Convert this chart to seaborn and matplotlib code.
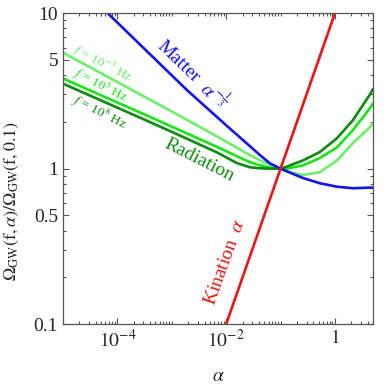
import numpy as np
import pandas as pd
import matplotlib
matplotlib.use('Agg')
import matplotlib.pyplot as plt
import matplotlib.ticker as mticker
import seaborn as sns

# ── Data ──────────────────────────────────────
matter_alpha = [5e-5, 1.9e-3, 1e-2, 0.042, 0.064, 0.1, 0.131, 0.259, 0.53, 1.09, 2.14, 4.4, 5.0]
matter_omega = [11.0, 3.2, 1.9, 1.22, 1.08, 1.0, 0.96, 0.87, 0.805, 0.765, 0.748, 0.755, 0.755]

kination_alpha = [0.01, 1.0]
kination_omega = [0.1, 10.0]

green_alpha = [1e-5, 4e-4, 1.6e-3, 6.8e-3, 0.0158, 0.0274, 0.042, 0.064, 0.1,
               0.131, 0.259, 0.53, 1.09, 2.14, 4.4, 5.0]
rad_f8 = [3.52, 1.99, 1.60, 1.27, 1.085, 1.02, 1.005, 1.0, 1.0,
          1.03, 1.13, 1.28, 1.57, 2.05, 3.0, 3.25]
rad_f5 = [3.8, 2.15, 1.73, 1.38, 1.20, 1.10, 1.05, 1.015, 1.0,
          1.0, 1.05, 1.17, 1.37, 1.77, 2.45, 2.62]
rad_f3 = [5.57, 2.77, 2.13, 1.61, 1.36, 1.22, 1.13, 1.06, 1.0,
          0.96, 0.91, 0.95, 1.13, 1.46, 1.85, 1.95]

C_BLUE = '#1414f0'
C_RED = '#f01414'
C_DARK = '#0a8c0a'
C_MID = '#14e614'
C_LIGHT = '#6cf06c'

# ── Style ─────────────────────────────────────
sns.set_theme(style='ticks')
plt.rcParams['font.family'] = ['Liberation Serif', 'DejaVu Serif']
plt.rcParams['mathtext.fontset'] = 'stix'

fig = plt.figure(figsize=(3.91, 3.85), dpi=100)
ax = fig.add_axes([0.161, 0.158, 0.793, 0.808])

lw = 1.9
series = [
    (green_alpha, rad_f3, C_LIGHT),
    (green_alpha, rad_f5, C_MID),
    (green_alpha, rad_f8, C_DARK),
    (matter_alpha, matter_omega, C_BLUE),
    (kination_alpha, kination_omega, C_RED),
]
for xs, ys, col in series:
    d = pd.DataFrame({'alpha': xs, 'omega': ys})
    sns.lineplot(data=d, x='alpha', y='omega', color=col, lw=lw,
                 sort=False, ax=ax)

ax.set_xscale('log')
ax.set_yscale('log')
ax.set_xlim(1e-5, 5)
ax.set_ylim(0.1, 10)

# ticks
ax.xaxis.set_major_locator(mticker.FixedLocator([1e-4, 1e-2, 1]))
ax.xaxis.set_major_formatter(mticker.FixedFormatter(
    [r'$10^{-4}$', r'$10^{-2}$', r'$1$']))
ax.xaxis.set_minor_locator(mticker.LogLocator(base=10, subs=np.arange(1, 10), numticks=20))
ax.xaxis.set_minor_formatter(mticker.NullFormatter())
ax.yaxis.set_major_locator(mticker.FixedLocator([0.1, 0.5, 1, 5, 10]))
ax.yaxis.set_major_formatter(mticker.FixedFormatter(['0.1', '0.5', '1', '5', '10']))
ax.yaxis.set_minor_locator(mticker.LogLocator(base=10, subs=np.arange(1, 10), numticks=20))
ax.yaxis.set_minor_formatter(mticker.NullFormatter())

ax.tick_params(which='both', direction='in', top=True, right=True,
               color='#555555', labelsize=14, width=0.8)
ax.tick_params(which='major', length=4)
ax.tick_params(which='minor', length=2.5)
for sp in ax.spines.values():
    sp.set_color('#555555')
    sp.set_linewidth(0.9)

ax.set_xlabel(r'$\alpha$', fontsize=14, labelpad=12)
ax.set_ylabel(r'$\Omega_{\rm GW}(\mathrm{f},\alpha)/\Omega_{\rm GW}(\mathrm{f},0.1)$',
              fontsize=13)
ax.yaxis.set_label_coords(-0.135, 0.395)

# ── Curve labels ──────────────────────────────
ax.text(1.3e-3, 4.84, 'Matter', color=C_BLUE, fontsize=14,
        rotation=-44, ha='center', va='center')
ax.text(6.2e-3, 3.0, r'$\alpha^{-\frac{1}{3}}$', color=C_BLUE, fontsize=14,
        rotation=-44, ha='center', va='center')
ax.text(3.2e-3, 1.13, 'Radiation', color=C_DARK, fontsize=14,
        rotation=-27, ha='center', va='center')
ax.text(9.5e-3, 0.25, r'Kination  $\alpha$', color=C_RED, fontsize=14,
        rotation=70, ha='center', va='center')
ax.text(5.2e-5, 4.7, r'$f$ = 10$^{-3}$ Hz', color=C_LIGHT, fontsize=9.5,
        rotation=-27, ha='center', va='center')
ax.text(4.8e-5, 3.44, r'$f$ = 10$^{5}$ Hz', color=C_MID, fontsize=9.5,
        rotation=-27, ha='center', va='center')
ax.text(4.6e-5, 2.31, r'$f$ = 10$^{8}$ Hz', color=C_DARK, fontsize=9.5,
        rotation=-27, ha='center', va='center')

fig.savefig('out.png', dpi=100)
